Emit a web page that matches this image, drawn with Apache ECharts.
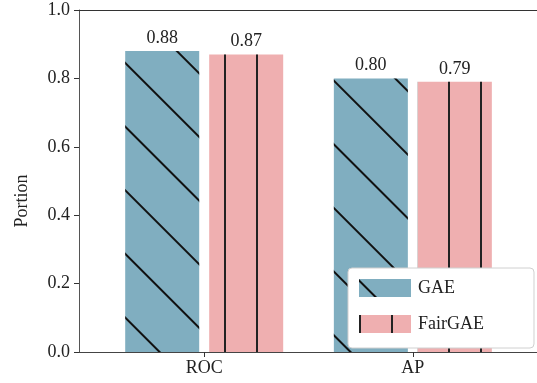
<!DOCTYPE html>
<html>
<head>
<meta charset="utf-8">
<script src="https://cdn.jsdelivr.net/npm/echarts@6/dist/echarts.min.js"></script>
<style>html,body{margin:0;padding:0;background:#fff;}#c{width:537px;height:383px;}</style>
</head>
<body>
<div id="c"></div>
<script>
var categories = ['ROC', 'AP'];
var seriesNames = ['GAE', 'FairGAE'];
var gaeValues = [0.88, 0.80];
var fairgaeValues = [0.87, 0.79];

var FONT = 'Liberation Serif';
var TXT = '#222';
var X_MIN = -0.6, X_MAX = 1.595;
var chart = echarts.init(document.getElementById('c'), null, {renderer: 'canvas'});

function toData(vals) { return vals.map(function (v, i) { return [i, v]; }); }

var option = {
  animation: false,
  backgroundColor: '#fff',
  textStyle: {fontFamily: FONT},
  grid: {left: 79, top: 10, right: 0, bottom: 31, show: false},
  legend: {
    orient: 'vertical', left: 348, top: 268,
    padding: [11, 50, 15, 11],
    itemGap: 18, itemWidth: 52, itemHeight: 18,
    icon: 'rect',
    backgroundColor: '#fff', borderColor: '#d0d0d0', borderWidth: 1, borderRadius: 4,
    textStyle: {fontFamily: FONT, fontSize: 18, color: TXT, padding: [0, 0, 0, 2]},
    data: seriesNames
  },
  xAxis: [{
    type: 'value', min: X_MIN, max: X_MAX,
    axisLine: {show: true, onZero: false, lineStyle: {color: '#444', width: 1}},
    splitLine: {show: false},
    axisTick: {show: true, length: 5, lineStyle: {color: '#333'}, customValues: [0, 1]},
    axisLabel: {customValues: [0, 1], margin: 7, fontFamily: FONT, fontSize: 18, color: TXT,
      formatter: function (v) { return categories[Math.round(v)] || ''; }}
  }, {
    type: 'value', position: 'top', min: X_MIN, max: X_MAX,
    axisLine: {show: true, onZero: false, lineStyle: {color: '#333', width: 1}},
    splitLine: {show: false}, axisTick: {show: false}, axisLabel: {show: false}
  }],
  yAxis: {
    type: 'value', min: 0, max: 1, interval: 0.2,
    name: 'Portion', nameLocation: 'middle', nameGap: 48,
    nameTextStyle: {fontFamily: FONT, fontSize: 18, color: TXT, padding: [0, 40, 0, 0]},
    axisLine: {show: true, onZero: false, lineStyle: {color: '#555', width: 1}},
    splitLine: {show: false},
    axisTick: {show: true, length: 5, lineStyle: {color: '#333'}},
    axisLabel: {margin: 9, fontFamily: FONT, fontSize: 18, color: TXT,
      formatter: function (v) { return v.toFixed(1); }}
  },
  series: [
    {
      name: seriesNames[0], type: 'bar', xAxisIndex: 0, data: toData(gaeValues),
      barWidth: 74, barGap: '13.5%',
      itemStyle: {color: '#80aec0',
        decal: {symbol: 'rect', symbolSize: 1, dashArrayX: [1, 0], dashArrayY: [2, 43], rotation: Math.PI / 4, color: '#111'}},
      label: {show: true, position: 'top', distance: 4, fontFamily: FONT, fontSize: 18, color: TXT,
        formatter: function (p) { return p.value[1].toFixed(2); }}
    },
    {
      name: seriesNames[1], type: 'bar', xAxisIndex: 0, data: toData(fairgaeValues),
      barWidth: 74,
      itemStyle: {color: '#efafb0',
        decal: {symbol: 'rect', symbolSize: 1, dashArrayX: [2, 30], dashArrayY: [1, 0], color: '#222'}},
      label: {show: true, position: 'top', distance: 4, fontFamily: FONT, fontSize: 18, color: TXT,
        formatter: function (p) { return p.value[1].toFixed(2); }}
    }
  ]
};
chart.setOption(option);
</script>
</body>
</html>
